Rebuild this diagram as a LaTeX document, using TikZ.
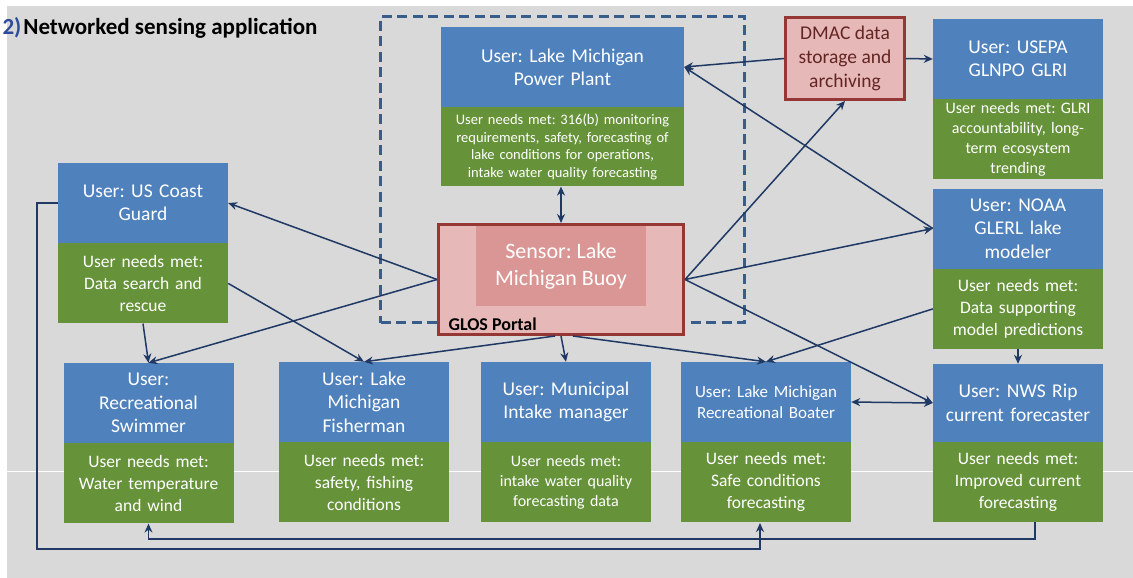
\documentclass[tikz,border=0pt]{standalone}
\usepackage{fontspec}
\setmainfont{Carlito}
\usepackage{tikz}
\usetikzlibrary{arrows.meta,shapes,positioning}
\frenchspacing

\definecolor{userblue}{HTML}{4F81BD}
\definecolor{needgreen}{HTML}{669339}
\definecolor{sensorpink}{HTML}{E6B9B8}
\definecolor{sensordeep}{HTML}{D99694}
\definecolor{sensorred}{HTML}{953735}
\definecolor{dmactext}{HTML}{632523}
\definecolor{linkblue}{HTML}{1F3864}
\definecolor{portalblue}{HTML}{385D8A}
\definecolor{slidegray}{HTML}{D9D9D9}
\definecolor{titleblue}{HTML}{2E4B9B}

\begin{document}
\begin{tikzpicture}[x=1pt,y=-1pt,shape=rectangle,>={Stealth[length=9pt,width=8pt]},
  user/.style={fill=userblue, text=white, inner sep=0pt, align=center,
    minimum width=170pt, minimum height=80pt, text width=166pt,
    font=\fontsize{19.5}{23.3}\selectfont},
  needs/.style={fill=needgreen, text=white, inner sep=0pt, align=center,
    minimum width=170pt, minimum height=80pt, text width=166pt,
    font=\fontsize{17.5}{22}\selectfont},
  link/.style={draw=linkblue, line width=1.5pt, ->}]

\useasboundingbox (0,0) rectangle (1133,578);
\fill[slidegray] (7,6) rectangle (1133,578);
\draw[white, line width=1pt] (7,471) -- (1133,471);

\node (title) [anchor=base west, font=\bfseries\fontsize{23}{27}\selectfont] at (-1,35)
{\textcolor{titleblue}{2)}\hspace{2pt}Networked sensing application};

% GLOS portal area
\node (portal) [draw=portalblue, dash pattern=on 10pt off 5.5pt, line width=3pt,
minimum width=364pt, minimum height=306pt] at (562.5,169.5) {};

\node (pp) [user, minimum width=243pt, text width=236pt] at (562.5,67)
{User: Lake Michigan\\Power Plant};
\node (ppneeds) [needs, below=0pt of pp, minimum width=243pt, text width=236pt,
minimum height=79pt, font=\fontsize{14.5}{17.7}\selectfont]
{User needs met: 316(b) monitoring\\requirements, safety, forecasting of\\lake conditions for operations,\\intake water quality forecasting};

\node (glos) [draw=sensorred, line width=3pt, fill=sensorpink,
minimum width=245pt, minimum height=110pt] at (561,279.5) {};
\node (buoy) [fill=sensordeep, text=white, inner sep=0pt, align=center,
minimum width=170pt, minimum height=80pt, font=\fontsize{22}{27}\selectfont]
at (561,266) {Sensor: Lake\\Michigan Buoy};
\node (glosname) [anchor=base west, font=\bfseries\fontsize{18}{22}\selectfont]
at (445,330) {GLOS Portal};

% data store and right column
\node (dmac) [draw=sensorred, line width=3pt, fill=sensorpink, text=dmactext,
inner sep=0pt, align=center, minimum width=119pt, minimum height=82pt,
font=\fontsize{19.5}{24}\selectfont] at (845,58.5)
{DMAC data\\storage and\\archiving};

\node (epa) [user] at (1018,59) {User: USEPA\\GLNPO GLRI};
\node (epaneeds) [needs, below=0pt of epa, font=\fontsize{16}{20}\selectfont]
{User needs met: GLRI\\accountability, long-\\term ecosystem\\trending};

\node (noaa) [user] at (1018,228.5) {User: NOAA\\GLERL lake\\modeler};
\node (noaaneeds) [needs, below=0pt of noaa]
{User needs met:\\Data supporting\\model predictions};

% left column
\node (uscg) [user] at (143,203) {User: US Coast\\Guard};
\node (uscgneeds) [needs, below=0pt of uscg]
{User needs met:\\Data search and\\rescue};

% bottom row
\node (swim) [user] at (148.5,403) {User:\\Recreational\\Swimmer};
\node (swimneeds) [needs, below=0pt of swim]
{User needs met:\\Water temperature\\and wind};

\node (fish) [user] at (364,402) {User: Lake\\Michigan\\Fisherman};
\node (fishneeds) [needs, below=0pt of fish]
{User needs met:\\safety, fishing\\conditions};

\node (muni) [user] at (566,402) {User: Municipal\\Intake manager};
\node (munineeds) [needs, below=0pt of muni, font=\fontsize{16}{20}\selectfont]
{User needs met:\\intake water quality\\forecasting data};

\node (boat) [user, font=\fontsize{17}{21}\selectfont] at (766,402)
{User: Lake Michigan\\Recreational Boater};
\node (boatneeds) [needs, below=0pt of boat]
{User needs met:\\Safe conditions\\forecasting};

\node (nws) [user, minimum height=78pt] at (1018,403) {User: NWS Rip\\current forecaster};
\node (nwsneeds) [needs, below=0pt of nws]
{User needs met:\\Improved current\\forecasting};

% links from the buoy
\draw[link, <->] (glos.north) -- (glos.north |- ppneeds.south);
\draw[link] (glos.east) -- (dmac.south);
\draw[link] (glos.east) -- (noaa.west);
\draw[link] (glos.east) -- (nws.west);
\draw[link] (glos.west) -- (uscg.east);
\draw[link] (glos.west) -- (swim.north);
\draw[link] (glos.south) -- (muni.north);
\draw[link] ([xshift=-6pt]glos.south) -- (fish.north);
\draw[link] ([xshift=12pt]glos.south) -- (boat.north);

% links between users
\draw[link] (dmac.west) -- (pp.east);
\draw[link] (dmac.east) -- (epa.west);
\draw[link] (noaa.west) -- (pp.east);
\draw[link] (noaaneeds.west) -- (boat.north);
\draw[link] (noaaneeds.south) -- (nws.north);
\draw[link, <->] (boat.east) -- (nws.west);
\draw[link] (uscgneeds.east) -- (fish.north);
\draw[link] (uscgneeds.south) -- (swim.north);

% feedback loops along the bottom
\coordinate (loopa) at (37,549);
\coordinate (boatin) at (760,523);
\draw[link] (uscg.west) -| (loopa) -| (boatin);
\coordinate (nwsout) at (1035,522);
\coordinate (loopb) at (1035,539);
\draw[link] (nwsout) -- (loopb) -| (swimneeds.south);
\end{tikzpicture}
\end{document}
